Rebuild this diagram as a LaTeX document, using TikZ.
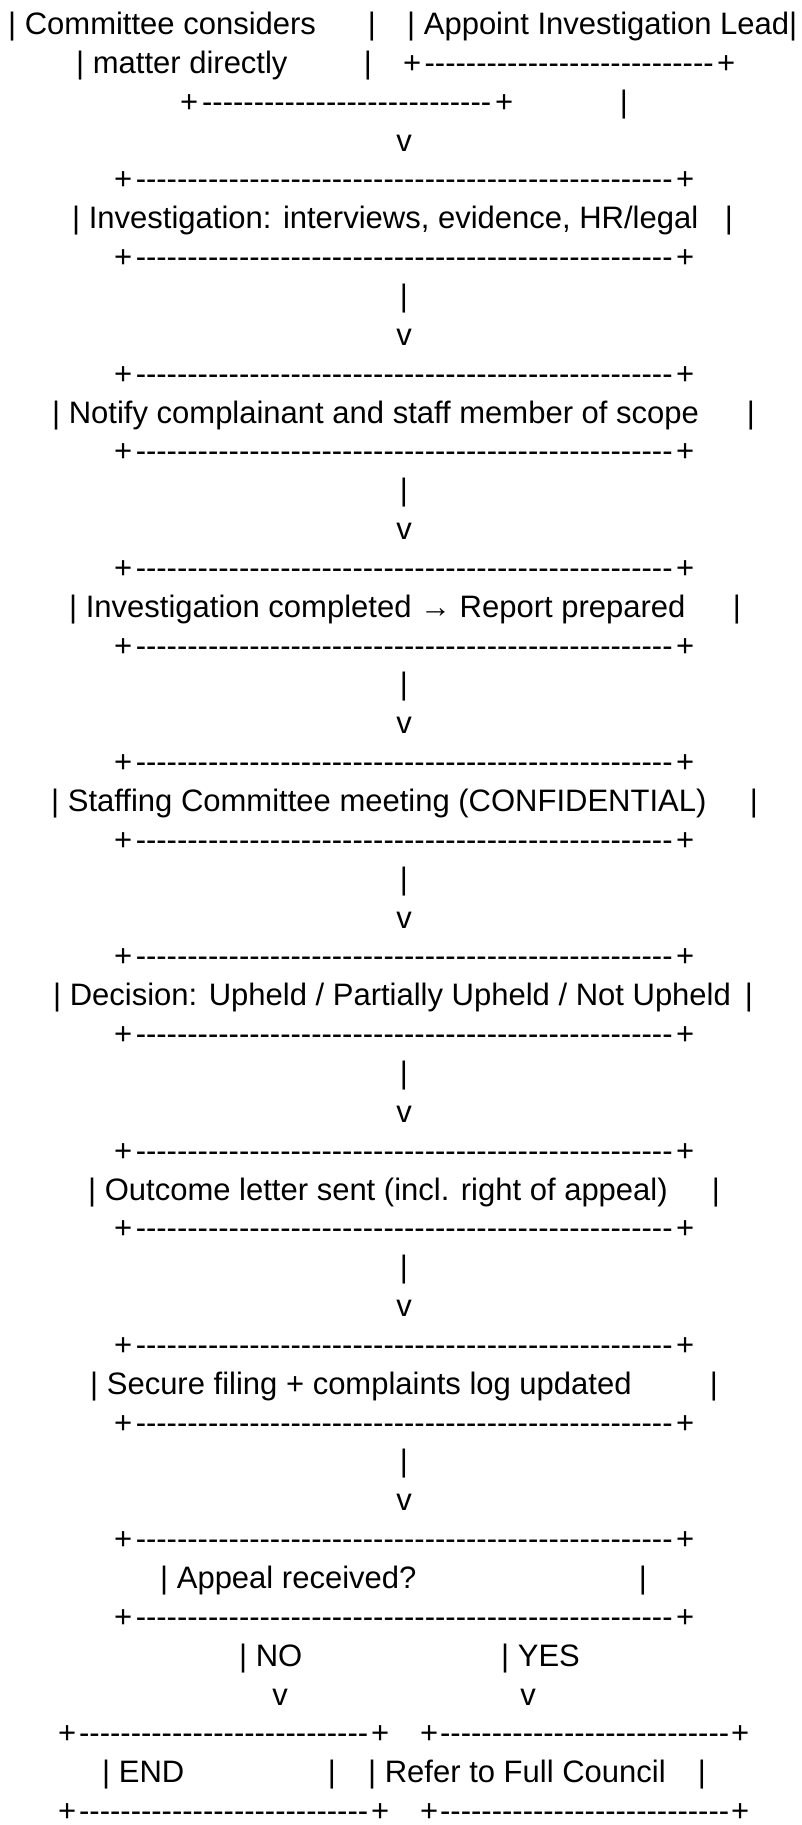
\documentclass[tikz,border=0pt]{standalone}
\usepackage{fontspec}
\setmainfont{Liberation Sans}
\usetikzlibrary{positioning}

% a "+-----+" edge of the given width (pt)
\newcommand{\boxedge}[1]{\makebox[#1pt][s]{+\cleaders\hbox{-}\hfill+}}
% baseline of text row #1
\newcommand{\rowy}[1]{34.5+38.85*(#1-1)}

\begin{document}
\begin{tikzpicture}[
        x=1pt, y=-1pt,
        every node/.style={inner sep=0pt, font=\fontsize{31}{37}\selectfont},
        txt/.style={anchor=base west},
        bar/.style={anchor=base},
        edge/.style={anchor=base west},
        ]
    \useasboundingbox (0,0) rectangle (802,1825);

    % Top: two routes
    \node[txt] (consider) at (8,{\rowy{1}}) {| Committee considers};
    \node[bar] (considerR) at (372,{\rowy{1}}) {|};
    \node[txt] (appoint) at (407,{\rowy{1}}) {| Appoint Investigation Lead|};
    \node[txt] (matter) at (76,{\rowy{2}}) {| matter directly};
    \node[bar] (matterR) at (368,{\rowy{2}}) {|};
    \node[edge] (appointB) at (403,{\rowy{2}}) {\boxedge{332}};
    \node[edge] (considerB) at (180,{\rowy{3}}) {\boxedge{333}};
    \node[bar] (appointL) at (624,{\rowy{3}}) {|};
    \node[bar] (mergeV) at (404,{\rowy{4}}) {v};

    % Box edges and links of the main steps
    \foreach \r in {5,7,10,12,15,17,20,22,25,27,30,32,35,37,40,42}
        \node[edge] (edge\r) at (114,{\rowy{\r}}) {\boxedge{580}};
    \foreach \r in {8,13,18,23,28,33,38}
        \node[bar] (link\r) at (404,{\rowy{\r}}) {|};
    \foreach \r in {9,14,19,24,29,34,39}
        \node[bar] (tip\r) at (404,{\rowy{\r}}) {v};

    % Main steps
    \node[txt] (invest) at (72,{\rowy{6}}) {| Investigation: interviews, evidence, HR/legal};
    \node[bar] (investR) at (729,{\rowy{6}}) {|};
    \node[txt] (notify) at (52,{\rowy{11}}) {| Notify complainant and staff member of scope};
    \node[bar] (notifyR) at (751,{\rowy{11}}) {|};
    \node[txt] (report) at (69,{\rowy{16}}) {| Investigation completed → Report prepared};
    \node[bar] (reportR) at (737,{\rowy{16}}) {|};
    \node[txt] (meeting) at (51,{\rowy{21}}) {| Staffing Committee meeting (CONFIDENTIAL)};
    \node[bar] (meetingR) at (754,{\rowy{21}}) {|};
    \node[txt] (decision) at (53,{\rowy{26}}) {| Decision: Upheld / Partially Upheld / Not Upheld};
    \node[bar] (decisionR) at (749,{\rowy{26}}) {|};
    \node[txt] (outcome) at (88,{\rowy{31}}) {| Outcome letter sent (incl. right of appeal)};
    \node[bar] (outcomeR) at (716,{\rowy{31}}) {|};
    \node[txt] (filing) at (90,{\rowy{36}}) {| Secure filing + complaints log updated};
    \node[bar] (filingR) at (714,{\rowy{36}}) {|};
    \node[txt] (appeal) at (160,{\rowy{41}}) {| Appeal received?};
    \node[bar] (appealR) at (643,{\rowy{41}}) {|};

    % Branches
    \node[txt] (no) at (239,{\rowy{43}}) {| NO};
    \node[txt] (yes) at (501,{\rowy{43}}) {| YES};
    \node[bar] (noV) at (280,{\rowy{44}}) {v};
    \node[bar] (yesV) at (528,{\rowy{44}}) {v};
    \node[edge] (endT) at (58,{\rowy{45}}) {\boxedge{331}};
    \node[edge] (councilT) at (420,{\rowy{45}}) {\boxedge{329}};
    \node[txt] (endbox) at (102,{\rowy{46}}) {| END};
    \node[bar] (endR) at (332,{\rowy{46}}) {|};
    \node[txt] (council) at (368,{\rowy{46}}) {| Refer to Full Council};
    \node[bar] (councilR) at (702,{\rowy{46}}) {|};
    \node[edge] (endB) at (58,{\rowy{47}}) {\boxedge{331}};
    \node[edge] (councilB) at (420,{\rowy{47}}) {\boxedge{329}};

\end{tikzpicture}
\end{document}
